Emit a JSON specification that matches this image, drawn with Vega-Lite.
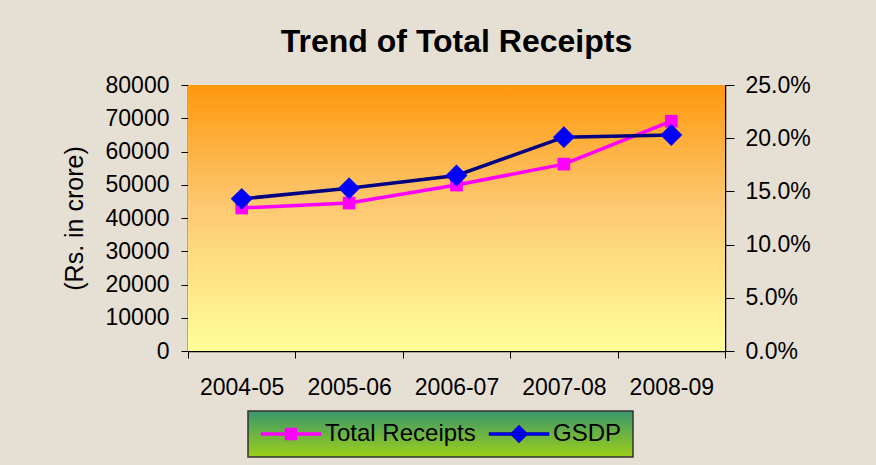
{
  "$schema": "https://vega.github.io/schema/vega-lite/v6.json",
  "autosize": "none",
  "width": 537,
  "height": 266,
  "padding": {"left": 188, "top": 85, "right": 151, "bottom": 114},
  "background": "#e6dfd3",
  "config": {
    "font": "Liberation Sans",
    "view": {"stroke": null},
    "axis": {"labelFont": "Liberation Sans", "titleFont": "Liberation Sans", "labelColor": "#000000", "titleColor": "#000000", "domainColor": "#000000", "tickColor": "#000000", "grid": false}
  },
  "title": {"text": "Trend of Total Receipts", "fontSize": 32, "fontWeight": "bold", "font": "Liberation Sans", "color": "#000000", "offset": 15},
  "data": {"values": [
    {"year": "2004-05", "receipts": 43000, "gsdp": 0.143},
    {"year": "2005-06", "receipts": 44500, "gsdp": 0.153},
    {"year": "2006-07", "receipts": 49900, "gsdp": 0.165},
    {"year": "2007-08", "receipts": 56200, "gsdp": 0.201},
    {"year": "2008-09", "receipts": 69100, "gsdp": 0.203}
  ]},
  "encoding": {
    "x": {"field": "year", "type": "nominal", "sort": null,
      "scale": {"type": "band", "paddingInner": 0, "paddingOuter": 0},
      "axis": {"title": null, "labelAngle": 0, "tickBand": "extent", "tickSize": 7, "labelPadding": 18, "labelFontSize": 23, "domainWidth": 1.5}}
  },
  "layer": [
    {
      "data": {"values": [{}]},
      "mark": {"type": "rect", "fill": {"gradient": "linear", "x1": 0, "y1": 0, "x2": 0, "y2": 1, "stops": [{"offset": 0, "color": "#ff980c"}, {"offset": 0.45, "color": "#fdc870"}, {"offset": 1, "color": "#ffff9a"}]}},
      "encoding": {"x": null}
    },
    {
      "encoding": {
        "y": {"field": "receipts", "type": "quantitative", "scale": {"domain": [0, 80000]},
          "axis": {"orient": "left", "values": [0, 10000, 20000, 30000, 40000, 50000, 60000, 70000, 80000], "format": "d", "tickSize": 7, "labelPadding": 12, "labelFontSize": 23, "title": "(Rs. in crore)", "titleFontSize": 25, "titleFontWeight": "normal", "titlePadding": 18, "domainWidth": 1.5}}
      },
      "layer": [
        {"mark": {"type": "line", "strokeWidth": 3.5}, "encoding": {"color": {"datum": "Total Receipts", "type": "nominal",
          "scale": {"domain": ["Total Receipts", "GSDP"], "range": ["#ff00ff", "#000080"]},
          "legend": {"title": null, "orient": "none", "direction": "horizontal", "legendX": 60, "legendY": 326,
            "labelFontSize": 24, "labelFont": "Liberation Sans", "labelColor": "#000000", "labelLimit": 300,
            "symbolSize": 400, "symbolOffset": 20, "labelOffset": 22, "columnPadding": 11, "padding": 11,
            "strokeColor": "#333333",
            "encode": {
              "legend": {"update": {"fill": {"value": {"gradient": "linear", "x1": 0, "y1": 0, "x2": 0, "y2": 1, "stops": [{"offset": 0, "color": "#3a976e"}, {"offset": 1, "color": "#9ccf18"}]}}, "stroke": {"value": "#333333"}, "strokeWidth": {"value": 1.5}}},
              "symbols": {"update": {
                "shape": {"signal": "datum.value === 'GSDP' ? 'M-3,-0.15H3V0.15H-3Z M0,-0.9L0.9,0L0,0.9L-0.9,0Z' : 'M-3,-0.15H3V0.15H-3Z M-0.6,-0.6H0.6V0.6H-0.6Z'"},
                "fill": {"signal": "datum.value === 'GSDP' ? '#0000ff' : '#ff00ff'"},
                "stroke": {"signal": "datum.value === 'GSDP' ? '#000080' : '#ff00ff'"},
                "strokeWidth": {"value": 0.5},
                "opacity": {"value": 1}, "fillOpacity": {"value": 1}
              }}
            }
          }}}},
        {"mark": {"type": "point", "shape": "square", "filled": true, "size": 160, "opacity": 1, "fill": "#ff00ff"}}
      ]
    },
    {
      "encoding": {
        "y": {"field": "gsdp", "type": "quantitative", "scale": {"domain": [0, 0.25]},
          "axis": {"orient": "right", "values": [0, 0.05, 0.1, 0.15, 0.2, 0.25], "format": ".1%", "tickSize": 9, "labelPadding": 11, "labelFontSize": 23, "title": null, "domainWidth": 1.5}}
      },
      "layer": [
        {"mark": {"type": "line", "strokeWidth": 3.5}, "encoding": {"color": {"datum": "GSDP", "type": "nominal"}}},
        {"mark": {"type": "point", "shape": "diamond", "filled": true, "size": 480, "opacity": 1, "fill": "#0000ff"}}
      ]
    }
  ],
  "resolve": {"scale": {"y": "independent"}}
}
